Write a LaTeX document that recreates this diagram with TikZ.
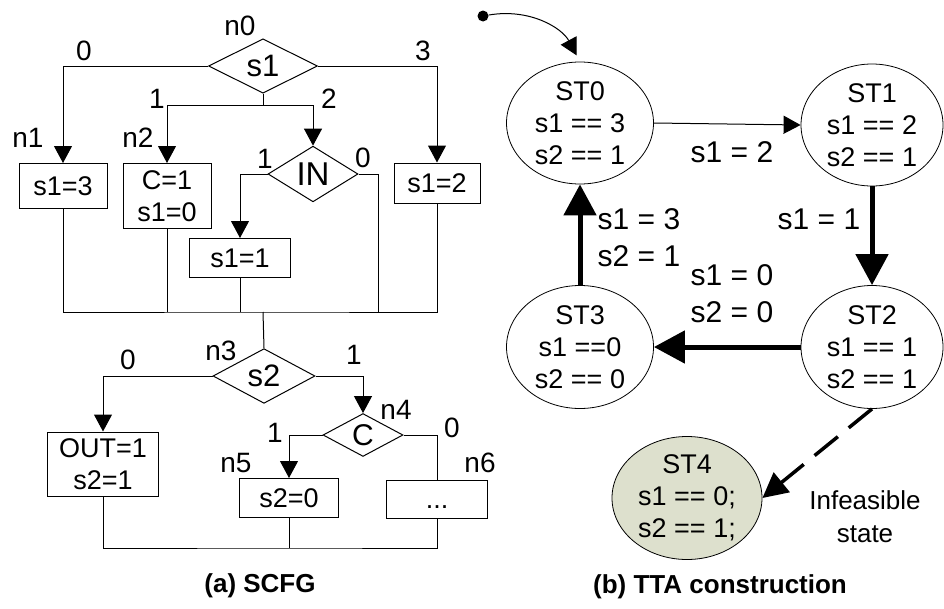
\documentclass[tikz,border=0pt]{standalone}
\usepackage{fontspec}
\setmainfont{Liberation Sans}
\usetikzlibrary{arrows.meta,shapes.geometric}
\definecolor{infeas}{RGB}{221,224,205}
\tikzset{
  blk/.style={draw,line width=1pt,inner sep=0pt,align=center,font=\fontsize{27}{32}\selectfont},
  dec/.style={draw,diamond,line width=1pt,inner sep=0pt,font=\fontsize{31}{36}\selectfont},
  st/.style={draw,ellipse,line width=0.8pt,inner sep=0pt,minimum width=147pt,minimum height=122pt,align=center,font=\fontsize{27}{32}\selectfont},
  lbl/.style={font=\fontsize{28}{32}\selectfont},
  elbl/.style={font=\fontsize{30}{37}\selectfont,align=center},
  ln/.style={line width=1pt},
  ar/.style={ln,-{Triangle[length=17pt,width=18pt]}},
  bar/.style={line width=5pt,-{Triangle[length=31pt,width=32pt]}},
  dar/.style={line width=3.5pt,dash pattern=on 30pt off 14pt,-{Triangle[length=25pt,width=25pt]}},
  hd/.style={font=\fontsize{26}{30}\selectfont\bfseries}
}
\begin{document}
\begin{tikzpicture}[x=1pt,y=-1pt]
\useasboundingbox (0,0) rectangle (944,608);

% (a) SCFG
\node[lbl] (ln0) at (240,26) {n0};
\node[dec,minimum width=109pt,minimum height=48pt] (d0) at (263,66) {s1};
\node[lbl] (l00) at (84,51) {0};
\node[lbl] (l03) at (423,51) {3};
\node[lbl] (l01) at (157,99) {1};
\node[lbl] (l02) at (329,99) {2};
\node[lbl] (ln1) at (28,138) {n1};
\node[lbl] (ln2) at (138,138) {n2};
\node[blk,minimum width=88pt,minimum height=45pt] (b1) at (63,186) {s1=3};
\node[blk,minimum width=88pt,minimum height=65pt] (b2) at (167,196) {C=1\\s1=0};
\node[dec,font=\fontsize{33}{38}\selectfont,minimum width=90pt,minimum height=49pt] (d1) at (313,174) {IN};
\node[lbl] (l11) at (265,159) {1};
\node[lbl] (l10) at (363,158) {0};
\node[blk,minimum width=101pt,minimum height=39pt] (b3) at (240,258) {s1=1};
\node[blk,minimum width=86pt,minimum height=40pt] (b4) at (437,183) {s1=2};
\coordinate (k0) at (263,105);
\coordinate (j0) at (263,312);
\coordinate (c1) at (378,312);

\draw[ar] (d0.west) -| (b1.north);
\draw[ar] (d0.east) -| (b4.north);
\draw[ln] (d0.south) -- (k0);
\draw[ar] (k0) -| (b2.north);
\draw[ar] (k0) -| (d1.north);
\draw[ar] (d1.west) -| (b3.north);
\draw[ln] (d1.east) -| (c1);
\draw[ln] (b1.south) |- (j0) -| (b4.south);
\draw[ln] (b2.south) -- (b2.south |- j0);
\draw[ln] (b3.south) -- (b3.south |- j0);

\node[lbl] (ln3) at (221,351) {n3};
\node[dec,minimum width=102pt,minimum height=47pt] (d2) at (264,376) {s2};
\node[lbl] (l20) at (128,360) {0};
\node[lbl] (l21) at (354,355) {1};
\node[lbl] (ln4) at (396,410) {n4};
\node[dec,font=\fontsize{30}{36}\selectfont,minimum width=80pt,minimum height=35pt] (d3) at (363,435) {C};
\node[lbl] (l31) at (275,433) {1};
\node[lbl] (l30) at (452,428) {0};
\node[lbl] (ln5) at (236,463) {n5};
\node[lbl] (ln6) at (480,463) {n6};
\node[blk,minimum width=111pt,minimum height=64pt] (b5) at (103,464) {OUT=1\\s2=1};
\node[blk,minimum width=99pt,minimum height=39pt] (b6) at (289,498) {s2=0};
\node[blk,minimum width=101pt,minimum height=38pt,text height=19pt] (b7) at (437,499) {...};
\coordinate (j1) at (289,548);

\draw[ln] (j0) -- (d2.north);
\draw[ar] (d2.west) -| (b5.north);
\draw[ar] (d2.east) -| (d3.north);
\draw[ar] (d3.west) -| (b6.north);
\draw[ln] (d3.east) -| (b7.north);
\draw[ln] (b5.south) |- (j1) -| (b7.south);
\draw[ln] (b6.south) -- (j1);

\node[hd] (capa) at (260,586) {(a) SCFG};

% (b) TTA construction
\node[circle,fill,inner sep=0pt,minimum size=11pt] (start) at (483,16) {};
\node[st] (st0) at (580,123) {ST0\\s1 == 3\\s2 == 1};
\node[st,minimum width=142pt] (st1) at (872,125) {ST1\\s1 == 2\\s2 == 1};
\node[st,minimum width=142pt,minimum height=123pt] (st2) at (872,347) {ST2\\s1 == 1\\s2 == 1};
\node[st,minimum height=123pt] (st3) at (580,347) {ST3\\s1 ==0\\s2 == 0};
\node[st,fill=infeas,minimum width=150pt,minimum height=123pt] (st4) at (687,498) {ST4\\s1 == 0;\\s2 == 1;};

\draw[ar,shorten >=7pt] (start) .. controls (530,8) and (562,28) .. (st0.north);
\draw[ar] (st0.east) -- (st1.west);
\draw[bar] (st1.south) -- (st2.north);
\draw[bar] (st2.west) -- (st3.east);
\draw[bar] (st3.north) -- (st0.south);
\draw[dar] (st2.south) -- (st4.east);

\node[elbl] (e01) at (732,152) {s1 = 2};
\node[elbl] (e12) at (819,219) {s1 = 1};
\node[elbl] (e30) at (639,238) {s1 = 3\\s2 = 1};
\node[elbl] (e23) at (732,294) {s1 = 0\\s2 = 0};
\node[font=\fontsize{26}{33}\selectfont,align=center] (inf) at (865,517) {Infeasible\\state};

\node[hd] (capb) at (720,587) {(b) TTA construction};
\end{tikzpicture}
\end{document}
